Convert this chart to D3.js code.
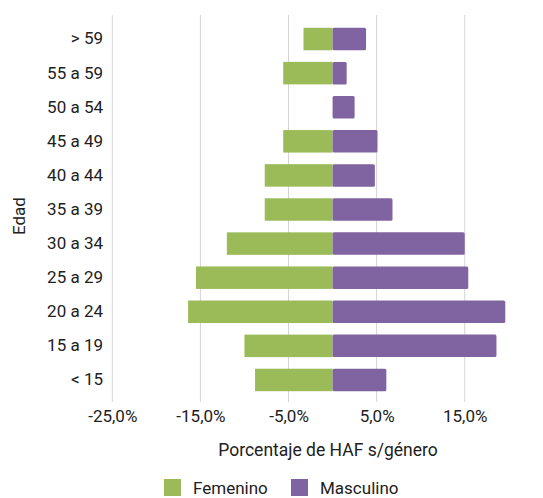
<!DOCTYPE html>
<html>
<head>
<meta charset="utf-8">
<script src="https://cdn.jsdelivr.net/npm/d3@7"></script>
<style>
  body { margin: 0; background: #fff; }
  text { font-family: Roboto, sans-serif; fill: #212121; }
</style>
</head>
<body>
<svg id="chart"></svg>
<script>
var width = 543,
    height = 498;

// Age groups, top to bottom
var edades = ['> 59', '55 a 59', '50 a 54', '45 a 49', '40 a 44', '35 a 39',
              '30 a 34', '25 a 29', '20 a 24', '15 a 19', '< 15'];
// Percentages (female drawn to the left as negative)
var femenino = [-3.3, -5.6, 0, -5.6, -7.7, -7.7, -12.0, -15.5, -16.4, -10.0, -8.8];
var masculino = [3.8, 1.6, 2.5, 5.1, 4.8, 6.8, 15.0, 15.4, 19.6, 18.6, 6.1];
var xTicks = [-25, -15, -5, 5, 15];

var series = ['Femenino', 'Masculino'];
var colores = ['#9bbb59', '#8064a2'];

var locale = d3.formatLocale({ decimal: ',', thousands: '.', grouping: [3], currency: ['', ''], minus: '-' });
var fmt = locale.format('.1f');

var svg = d3.select('#chart')
    .attr('width', width)
    .attr('height', height);

var x = d3.scaleLinear()
    .domain([-25, 20])
    .range([112.3, 508.8]);

var y = d3.scaleBand()
    .domain(edades)
    .range([22, 397])
    .paddingInner(0.34)
    .paddingOuter(0.17);

// Vertical gridlines
svg.append('g')
    .selectAll('line')
    .data(xTicks)
    .enter().append('line')
    .attr('x1', function (d) { return x(d); })
    .attr('x2', function (d) { return x(d); })
    .attr('y1', 15)
    .attr('y2', 402)
    .attr('stroke', '#d4d4d4')
    .attr('stroke-width', 1);

// Bars
var rows = edades.map(function (e, i) {
    return { edad: e, f: femenino[i], m: masculino[i] };
});

var bars = svg.append('g');

bars.selectAll('rect.fem')
    .data(rows.filter(function (d) { return d.f !== 0; }))
    .enter().append('rect')
    .attr('class', 'fem')
    .attr('x', function (d) { return x(d.f); })
    .attr('y', function (d) { return y(d.edad); })
    .attr('width', function (d) { return x(0) - x(d.f); })
    .attr('height', y.bandwidth())
    .attr('fill', colores[0]);

bars.selectAll('rect.mas')
    .data(rows.filter(function (d) { return d.m !== 0; }))
    .enter().append('rect')
    .attr('class', 'mas')
    .attr('x', x(0))
    .attr('y', function (d) { return y(d.edad); })
    .attr('width', function (d) { return x(d.m) - x(0); })
    .attr('height', y.bandwidth())
    .attr('rx', 1.5)
    .attr('fill', colores[1]);

// Y axis labels
var yAxis = d3.axisLeft(y).tickSize(0).tickPadding(0);
svg.append('g')
    .attr('transform', 'translate(103,0)')
    .call(yAxis)
    .call(function (g) { g.select('.domain').remove(); })
    .selectAll('text')
    .style('font-size', '17px')
    .attr('fill', '#212121');

// X axis labels
var xAxis = d3.axisBottom(x)
    .tickValues(xTicks)
    .tickSize(0)
    .tickPadding(0)
    .tickFormat(function (d) { return fmt(d) + '%'; });
svg.append('g')
    .attr('transform', 'translate(0,410)')
    .call(xAxis)
    .call(function (g) { g.select('.domain').remove(); })
    .selectAll('text')
    .style('font-size', '17px')
    .attr('fill', '#212121');

// Axis titles
svg.append('text')
    .attr('x', 328)
    .attr('y', 456)
    .attr('text-anchor', 'middle')
    .style('font-size', '17.5px')
    .text('Porcentaje de HAF s/género');

svg.append('text')
    .attr('transform', 'translate(25,216) rotate(-90)')
    .attr('text-anchor', 'middle')
    .style('font-size', '17px')
    .text('Edad');

// Legend
var legend = svg.append('g')
    .selectAll('g')
    .data(series)
    .enter().append('g')
    .attr('transform', function (d, i) { return 'translate(' + [164, 291][i] + ',479)'; });

legend.append('rect')
    .attr('width', 17)
    .attr('height', 17)
    .attr('fill', function (d, i) { return colores[i]; });

legend.append('text')
    .attr('x', 29)
    .attr('y', 15)
    .style('font-size', '17px')
    .text(function (d) { return d; });
</script>
</body>
</html>
